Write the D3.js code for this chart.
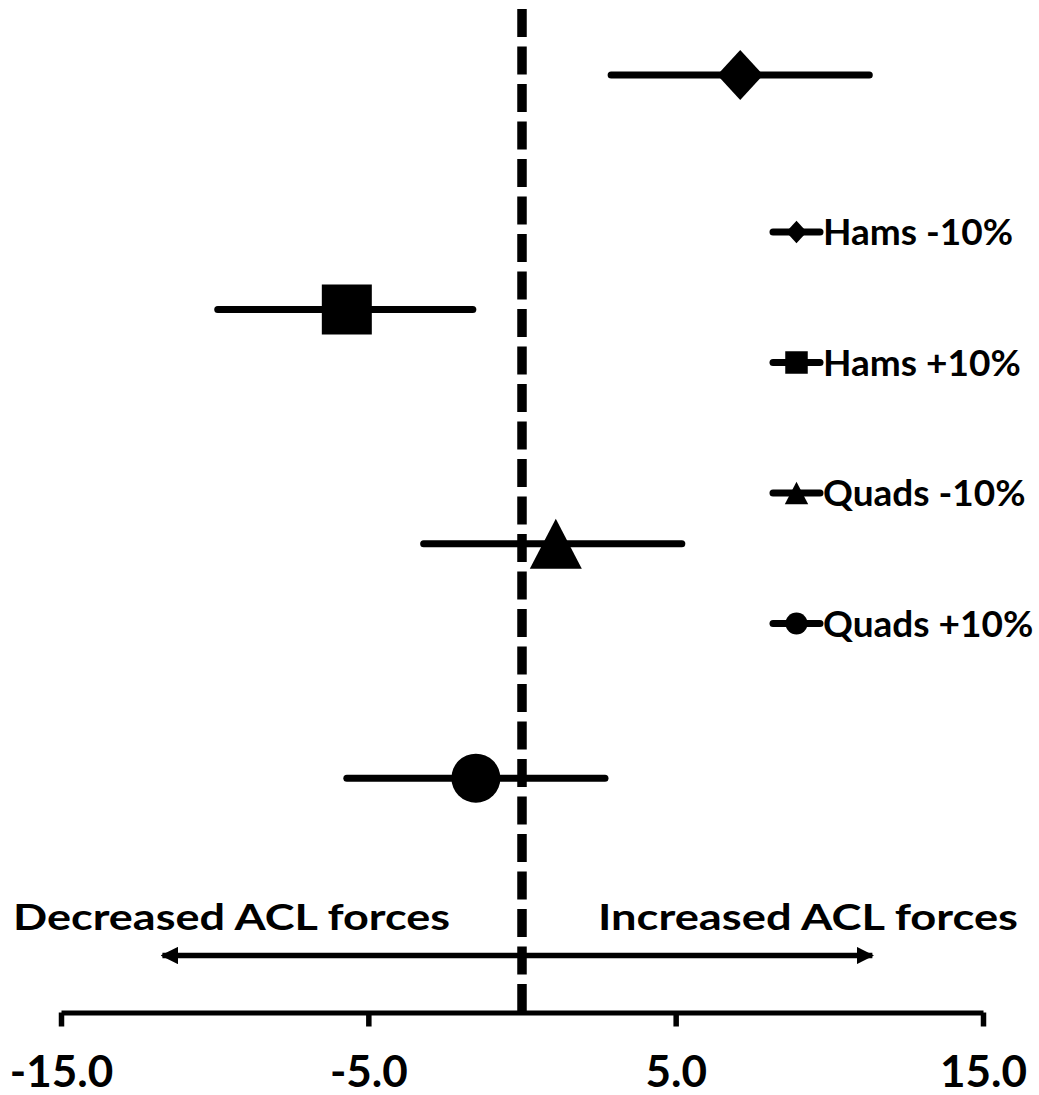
<!DOCTYPE html>
<html>
<head>
<meta charset="utf-8">
<script src="https://cdn.jsdelivr.net/npm/d3@7"></script>
<style>
  html, body { margin: 0; padding: 0; background: #fff; }
  svg { display: block; }
  text { font-family: Lato, "Open Sans", sans-serif; font-weight: 700; fill: #000; }
</style>
</head>
<body>
<svg id="chart" width="1039" height="1095"></svg>
<script>
// Effect of ±10% muscle force change on ACL force (mean and interval)
const categories = ["Hams -10%", "Hams +10%", "Quads -10%", "Quads +10%"];
const means = [7.1, -5.7, 1.1, -1.5];
const lower = [2.9, -9.9, -3.2, -5.7];
const upper = [11.3, -1.6, 5.2, 2.7];
const rowPositions = [4, 3, 2, 1];
const markerShapes = ["diamond", "square", "triangle", "circle"];
const xTickValues = [-15, -5, 5, 15];
const arrowEnds = [-11.7, 11.4];
const directionLabels = ["Decreased ACL forces", "Increased ACL forces"];

const svg = d3.select("#chart");

const x = d3.scaleLinear().domain([-15, 15]).range([61, 983]);
const y = d3.scaleLinear().domain([0, 4.32]).range([1012.5, 0]);

// marker outlines centred on (0,0); s scales the shape
function markerPath(shape, s) {
  const p = d3.path();
  if (shape === "diamond") {
    p.moveTo(0, -25 * s); p.lineTo(23 * s, 0); p.lineTo(0, 25 * s); p.lineTo(-23 * s, 0); p.closePath();
  } else if (shape === "square") {
    p.rect(-25 * s, -25 * s, 50 * s, 50 * s);
  } else if (shape === "triangle") {
    p.moveTo(0, -25 * s); p.lineTo(26 * s, 25 * s); p.lineTo(-26 * s, 25 * s); p.closePath();
  } else {
    p.arc(0, 0, 24.5 * s, 0, 2 * Math.PI); p.closePath();
  }
  return p.toString();
}

// tick labels use a plain hyphen for the sign
const tickFmt = v => d3.format(".1f")(v).replace("\u2212", "-");

// bottom axis
const axis = d3.axisBottom(x)
  .tickValues(xTickValues)
  .tickSize(14)
  .tickSizeOuter(0)
  .tickPadding(29)
  .tickFormat(tickFmt);

const gAxis = svg.append("g")
  .attr("transform", `translate(0,${y(0)})`)
  .call(axis);
gAxis.select(".domain").attr("stroke", "#000").attr("stroke-width", 5);
gAxis.selectAll(".tick line").attr("stroke", "#000").attr("stroke-width", 5.5);
gAxis.selectAll(".tick text")
  .attr("font-size", 44)
  .attr("font-family", "Lato, sans-serif")
  .attr("font-weight", 700)
  .attr("fill", "#000");

// reference line at zero
svg.append("line")
  .attr("x1", x(0)).attr("x2", x(0))
  .attr("y1", 0).attr("y2", y(0))
  .attr("stroke", "#000")
  .attr("stroke-width", 9.5)
  .attr("stroke-dasharray", "28,9.5")
  .attr("stroke-dashoffset", 28.5);

// interval bars
const rows = categories.map((c, i) => ({
  name: c, mean: means[i], lo: lower[i], hi: upper[i], row: rowPositions[i], shape: markerShapes[i]
}));

svg.append("g").selectAll("line").data(rows).join("line")
  .attr("x1", d => x(d.lo)).attr("x2", d => x(d.hi))
  .attr("y1", d => y(d.row)).attr("y2", d => y(d.row))
  .attr("stroke", "#000").attr("stroke-width", 7).attr("stroke-linecap", "round");

svg.append("g").selectAll("path").data(rows).join("path")
  .attr("transform", d => `translate(${x(d.mean)},${y(d.row)})`)
  .attr("d", d => markerPath(d.shape, 1))
  .attr("fill", "#000");

// legend
const legend = svg.append("g").attr("transform", "translate(773,0)");
const legendRows = legend.selectAll("g").data(rows).join("g")
  .attr("transform", (d, i) => `translate(0,${232 + i * 130.5})`);
legendRows.append("line")
  .attr("x1", 0).attr("x2", 47).attr("y1", 0).attr("y2", 0)
  .attr("stroke", "#000").attr("stroke-width", 7).attr("stroke-linecap", "round");
legendRows.append("path")
  .attr("transform", "translate(23.5,0)")
  .attr("d", d => markerPath(d.shape, 0.45))
  .attr("fill", "#000");
legendRows.append("text")
  .attr("x", 50).attr("y", 13)
  .attr("font-size", 37)
  .text(d => d.name);

// direction arrows
const arrowY = 955.5;
svg.append("defs").append("marker")
  .attr("id", "head")
  .attr("viewBox", "0 0 10 10")
  .attr("refX", 9).attr("refY", 5)
  .attr("markerWidth", 3.2).attr("markerHeight", 3.2)
  .attr("markerUnits", "strokeWidth")
  .attr("orient", "auto")
  .append("path").attr("d", "M0,0 L10,5 L0,10 Z").attr("fill", "#000");

arrowEnds.forEach(v => {
  svg.append("line")
    .attr("x1", x(0)).attr("x2", x(v))
    .attr("y1", arrowY).attr("y2", arrowY)
    .attr("stroke", "#000").attr("stroke-width", 5.5)
    .attr("marker-end", "url(#head)");
});

// direction captions, set wide
svg.append("text")
  .attr("x", 13).attr("y", 930)
  .attr("font-size", 37)
  .attr("textLength", 437)
  .attr("lengthAdjust", "spacingAndGlyphs")
  .text(directionLabels[0]);
svg.append("text")
  .attr("x", 598).attr("y", 930)
  .attr("font-size", 37)
  .attr("textLength", 420)
  .attr("lengthAdjust", "spacingAndGlyphs")
  .text(directionLabels[1]);
</script>
</body>
</html>
